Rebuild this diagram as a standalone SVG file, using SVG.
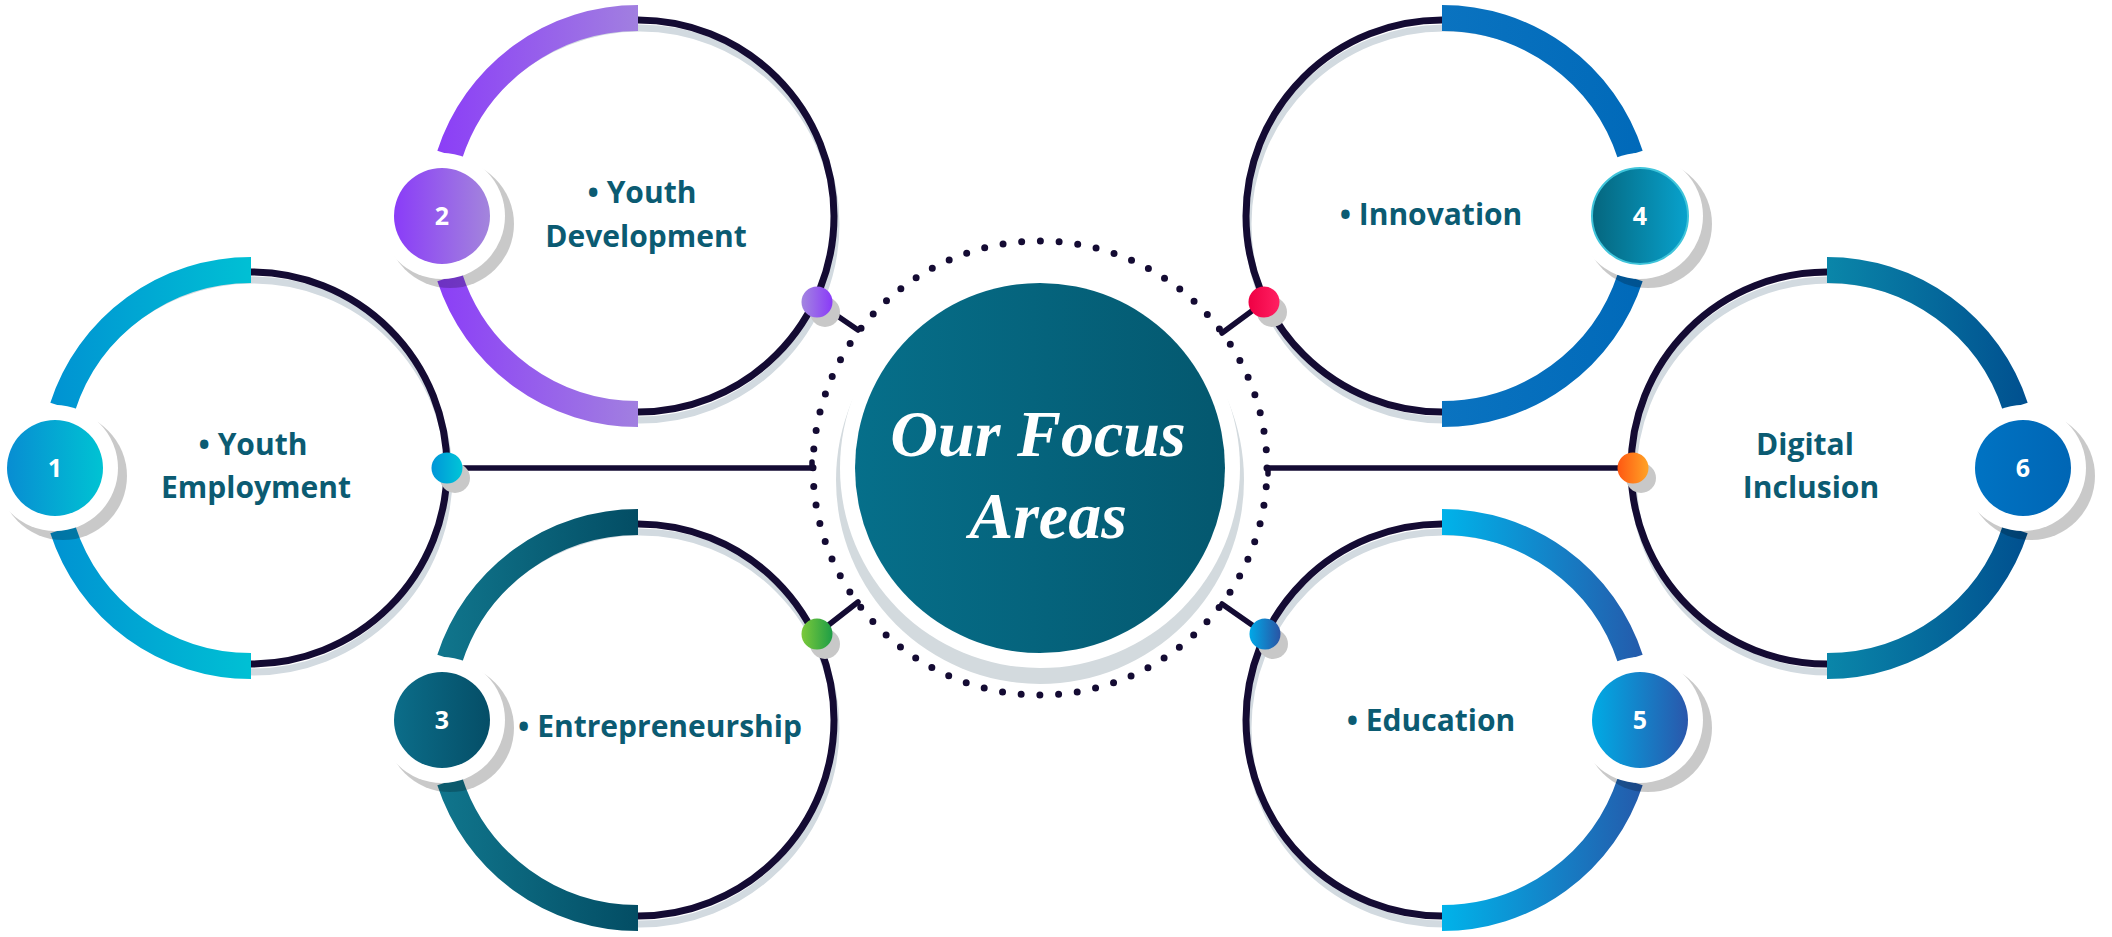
<svg xmlns="http://www.w3.org/2000/svg" width="2112" height="937" viewBox="0 0 2112 937">
<defs>
<linearGradient id="a1" gradientUnits="userSpaceOnUse" x1="40" y1="0" x2="251" y2="0"><stop offset="0" stop-color="#0090d2"/><stop offset="1" stop-color="#00c0d4"/></linearGradient>
<linearGradient id="a2" gradientUnits="userSpaceOnUse" x1="427" y1="0" x2="638" y2="0"><stop offset="0" stop-color="#8a3bf8"/><stop offset="1" stop-color="#a17fe0"/></linearGradient>
<linearGradient id="a3" gradientUnits="userSpaceOnUse" x1="427" y1="0" x2="638" y2="0"><stop offset="0" stop-color="#11788f"/><stop offset="1" stop-color="#034d64"/></linearGradient>
<linearGradient id="a4" gradientUnits="userSpaceOnUse" x1="1442" y1="0" x2="1653" y2="0"><stop offset="0" stop-color="#0a73c0"/><stop offset="1" stop-color="#0069b9"/></linearGradient>
<linearGradient id="a5" gradientUnits="userSpaceOnUse" x1="1442" y1="0" x2="1653" y2="0"><stop offset="0" stop-color="#00b3ea"/><stop offset="1" stop-color="#2656a8"/></linearGradient>
<linearGradient id="a6" gradientUnits="userSpaceOnUse" x1="1827" y1="0" x2="2038" y2="0"><stop offset="0" stop-color="#0a86a9"/><stop offset="1" stop-color="#004d8e"/></linearGradient>
<linearGradient id="b1"><stop offset="0" stop-color="#088dd2"/><stop offset="1" stop-color="#00c3d3"/></linearGradient>
<linearGradient id="b2"><stop offset="0" stop-color="#8a3cf8"/><stop offset="1" stop-color="#a385dc"/></linearGradient>
<linearGradient id="b3"><stop offset="0" stop-color="#0b6d89"/><stop offset="1" stop-color="#054e67"/></linearGradient>
<linearGradient id="b4"><stop offset="0" stop-color="#05667e"/><stop offset="1" stop-color="#08a2cd"/></linearGradient>
<linearGradient id="b5"><stop offset="0" stop-color="#00abe5"/><stop offset="1" stop-color="#2a57ab"/></linearGradient>
<linearGradient id="b6"><stop offset="0" stop-color="#0073c3"/><stop offset="1" stop-color="#0066b5"/></linearGradient>
<linearGradient id="d1"><stop offset="0" stop-color="#0096d8"/><stop offset="1" stop-color="#00c5d8"/></linearGradient>
<linearGradient id="d2"><stop offset="0" stop-color="#a386e0"/><stop offset="1" stop-color="#8a3af8"/></linearGradient>
<linearGradient id="d3"><stop offset="0" stop-color="#7cc93a"/><stop offset="1" stop-color="#1e9e46"/></linearGradient>
<linearGradient id="d4"><stop offset="0" stop-color="#ef0044"/><stop offset="1" stop-color="#ff2062"/></linearGradient>
<linearGradient id="d5"><stop offset="0" stop-color="#00a9e8"/><stop offset="1" stop-color="#2a54a4"/></linearGradient>
<linearGradient id="d6"><stop offset="0" stop-color="#ff5812"/><stop offset="1" stop-color="#ffa326"/></linearGradient>
<linearGradient id="cg"><stop offset="0" stop-color="#066f8a"/><stop offset="1" stop-color="#04586f"/></linearGradient>
</defs>
<style>
.ring{fill:none;stroke:#140b33;stroke-width:7}
.rshadow{fill:none;stroke:#d2dae0;stroke-width:7}
.arc{fill:none;stroke-width:26}
.bshadow{fill:#000;opacity:.21}
.bwhite{fill:#fff}
.num{font-family:"Open Sans","Liberation Sans",sans-serif;font-weight:700;font-size:25px;fill:#fff;text-anchor:middle}
.lbl{font-family:"Open Sans","Liberation Sans",sans-serif;font-weight:700;font-size:30px;fill:#0b5b72;text-anchor:middle}
.title{font-family:"Liberation Serif","DejaVu Serif",serif;font-weight:700;font-style:italic;font-size:66px;fill:#fff;text-anchor:middle}
.conn{stroke:#140b33;stroke-width:5.5;fill:none;stroke-linecap:round}
.dshadow{fill:#c8c8c8}
</style>
<rect width="2112" height="937" fill="#fff"/>

<g id="center">
<circle cx="1040" cy="468" r="227" fill="none" stroke="#140b33" stroke-width="7" stroke-linecap="round" stroke-dasharray="0 18.766"/>
<circle cx="1040" cy="480" r="204" fill="#d3dade"/>
<circle cx="1040" cy="468" r="200" fill="#fff"/>
<circle cx="1040" cy="468" r="185" fill="url(#cg)"/>
<text class="title" x="1038" y="456">Our Focus</text>
<text class="title" x="1048" y="538">Areas</text>
</g>

<g id="node-1">
<circle class="rshadow" cx="253" cy="476" r="196"/>
<circle class="ring" cx="251" cy="468" r="196"/>
<path class="arc" stroke="url(#a1)" d="M251,270 A198,198 0 0 0 62.7,406.8"/>
<path class="arc" stroke="url(#a1)" d="M62.7,529.2 A198,198 0 0 0 251,666"/>
<circle class="bshadow" cx="63" cy="476" r="64"/>
<circle class="bwhite" cx="55" cy="468" r="63"/>
<circle cx="55" cy="468" r="48" fill="url(#b1)"/>
<text class="num" x="55" y="477">1</text>
<text class="lbl" x="253" y="455">• Youth</text>
<text class="lbl" x="256" y="498">Employment</text>
</g>

<g id="node-2">
<circle class="rshadow" cx="640" cy="224" r="196"/>
<circle class="ring" cx="638" cy="216" r="196"/>
<path class="arc" stroke="url(#a2)" d="M638,18 A198,198 0 0 0 449.7,154.8"/>
<path class="arc" stroke="url(#a2)" d="M449.7,277.2 A198,198 0 0 0 638,414"/>
<circle class="bshadow" cx="450" cy="224" r="64"/>
<circle class="bwhite" cx="442" cy="216" r="63"/>
<circle cx="442" cy="216" r="48" fill="url(#b2)"/>
<text class="num" x="442" y="225">2</text>
<text class="lbl" x="642" y="203">• Youth</text>
<text class="lbl" x="646" y="247">Development</text>
</g>

<g id="node-3">
<circle class="rshadow" cx="640" cy="728" r="196"/>
<circle class="ring" cx="638" cy="720" r="196"/>
<path class="arc" stroke="url(#a3)" d="M638,522 A198,198 0 0 0 449.7,658.8"/>
<path class="arc" stroke="url(#a3)" d="M449.7,781.2 A198,198 0 0 0 638,918"/>
<circle class="bshadow" cx="450" cy="728" r="64"/>
<circle class="bwhite" cx="442" cy="720" r="63"/>
<circle cx="442" cy="720" r="48" fill="url(#b3)"/>
<text class="num" x="442" y="729">3</text>
<text class="lbl" x="660" y="737">• Entrepreneurship</text>
</g>

<g id="node-4">
<circle class="rshadow" cx="1444" cy="224" r="196"/>
<circle class="ring" cx="1442" cy="216" r="196"/>
<path class="arc" stroke="url(#a4)" d="M1442,18 A198,198 0 0 1 1630.3,154.8"/>
<path class="arc" stroke="url(#a4)" d="M1630.3,277.2 A198,198 0 0 1 1442,414"/>
<circle class="bshadow" cx="1648" cy="224" r="64"/>
<circle class="bwhite" cx="1640" cy="216" r="63"/>
<circle cx="1640" cy="216" r="48" fill="url(#b4)" stroke="#3fc4da" stroke-width="2"/>
<text class="num" x="1640" y="225">4</text>
<text class="lbl" x="1431" y="225">• Innovation</text>
</g>

<g id="node-5">
<circle class="rshadow" cx="1444" cy="728" r="196"/>
<circle class="ring" cx="1442" cy="720" r="196"/>
<path class="arc" stroke="url(#a5)" d="M1442,522 A198,198 0 0 1 1630.3,658.8"/>
<path class="arc" stroke="url(#a5)" d="M1630.3,781.2 A198,198 0 0 1 1442,918"/>
<circle class="bshadow" cx="1648" cy="728" r="64"/>
<circle class="bwhite" cx="1640" cy="720" r="63"/>
<circle cx="1640" cy="720" r="48" fill="url(#b5)"/>
<text class="num" x="1640" y="729">5</text>
<text class="lbl" x="1431" y="731">• Education</text>
</g>

<g id="node-6">
<circle class="rshadow" cx="1829" cy="476" r="196"/>
<circle class="ring" cx="1827" cy="468" r="196"/>
<path class="arc" stroke="url(#a6)" d="M1827,270 A198,198 0 0 1 2015.3,406.8"/>
<path class="arc" stroke="url(#a6)" d="M2015.3,529.2 A198,198 0 0 1 1827,666"/>
<circle class="bshadow" cx="2031" cy="476" r="64"/>
<circle class="bwhite" cx="2023" cy="468" r="63"/>
<circle cx="2023" cy="468" r="48" fill="url(#b6)"/>
<text class="num" x="2023" y="477">6</text>
<text class="lbl" x="1805" y="455">Digital</text>
<text class="lbl" x="1811" y="498">Inclusion</text>
</g>

<g id="connectors">
<path class="conn" d="M447,468 H812 V462"/>
<path class="conn" d="M1633,468 H1268 V474"/>
<path class="conn" d="M817,302 L858,330"/>
<path class="conn" d="M817,634 L858,602"/>
<path class="conn" d="M1264,302 L1222,333"/>
<path class="conn" d="M1265,634 L1222,604"/>
<circle class="dshadow" cx="455" cy="478" r="15"/>
<circle class="dshadow" cx="825" cy="312" r="15"/>
<circle class="dshadow" cx="825" cy="644" r="15"/>
<circle class="dshadow" cx="1272" cy="312" r="15"/>
<circle class="dshadow" cx="1273" cy="644" r="15"/>
<circle class="dshadow" cx="1641" cy="478" r="15"/>
<circle cx="447" cy="468" r="15.5" fill="url(#d1)"/>
<circle cx="817" cy="302" r="15.5" fill="url(#d2)"/>
<circle cx="817" cy="634" r="15.5" fill="url(#d3)"/>
<circle cx="1264" cy="302" r="15.5" fill="url(#d4)"/>
<circle cx="1265" cy="634" r="15.5" fill="url(#d5)"/>
<circle cx="1633" cy="468" r="15.5" fill="url(#d6)"/>
</g>
</svg>
